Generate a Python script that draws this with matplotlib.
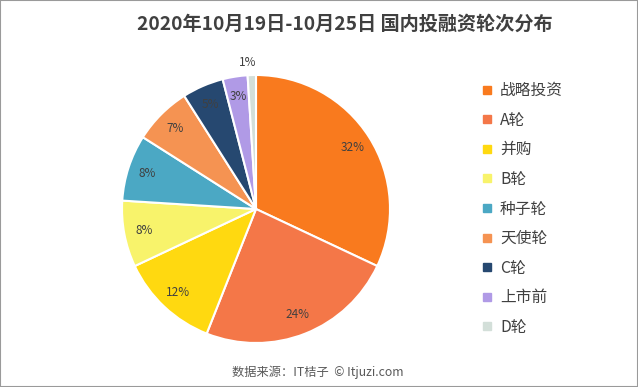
import matplotlib
matplotlib.use("Agg")
import matplotlib.pyplot as plt
from matplotlib.lines import Line2D
from matplotlib.patches import Rectangle

plt.rcParams["font.family"] = ["Noto Sans CJK SC", "DejaVu Sans"]

# data
labels = ["战略投资", "A轮", "并购", "B轮", "种子轮", "天使轮", "C轮", "上市前", "D轮"]
shares = [32, 24, 12, 8, 8, 7, 5, 3, 1]
colors = ["#F97A1E", "#F47748", "#FFD910", "#F8F36B", "#4BA8C4",
          "#F59352", "#264870", "#B09AE6", "#D3DFD9"]

W, H = 638, 387
fig = plt.figure(figsize=(W / 100, H / 100), dpi=100)
fig.patch.set_facecolor("white")

# pie centred at (256, 209) px, radius 134 px
cx, cy, r = 256, 209, 134
ax = fig.add_axes([(cx - r) / W, (H - cy - r) / H, 2 * r / W, 2 * r / H])
wedges, texts, autotexts = ax.pie(
    shares, colors=colors, startangle=90, counterclock=False,
    autopct="%d%%", pctdistance=0.85,
    wedgeprops=dict(edgecolor="white", linewidth=1.5),
    textprops=dict(color="#404040", fontsize=8.5),
)
# smallest slice label sits outside the pie
autotexts[-1].set_position((-0.06, 1.09))
ax.set_xlim(-1, 1)
ax.set_ylim(-1, 1)

fig.text(345 / W, 1 - 24 / H, "2020年10月19日-10月25日 国内投融资轮次分布",
         ha="center", va="center", fontsize=13.8, fontweight="bold", color="#404040")

handles = [Line2D([], [], marker="s", linestyle="none", markersize=6,
                  markerfacecolor=c, markeredgecolor=c) for c in colors]
leg = fig.legend(handles, labels, loc="upper left",
                 bbox_to_anchor=(474 / W, 1 - 76 / H), frameon=False,
                 fontsize=11.3, labelspacing=0.80, handlelength=0.8,
                 handletextpad=0.45, borderaxespad=0)
for t in leg.get_texts():
    t.set_color("#404040")

fig.text(318 / W, 1 - 372 / H, "数据来源：IT桔子  © Itjuzi.com",
         ha="center", va="center", fontsize=8.8, color="#595959")

fig.patches.append(Rectangle((0, 0), 1, 1, transform=fig.transFigure,
                             fill=False, edgecolor="#9A9A9A", linewidth=1.5))

fig.savefig("out.png", dpi=100)
